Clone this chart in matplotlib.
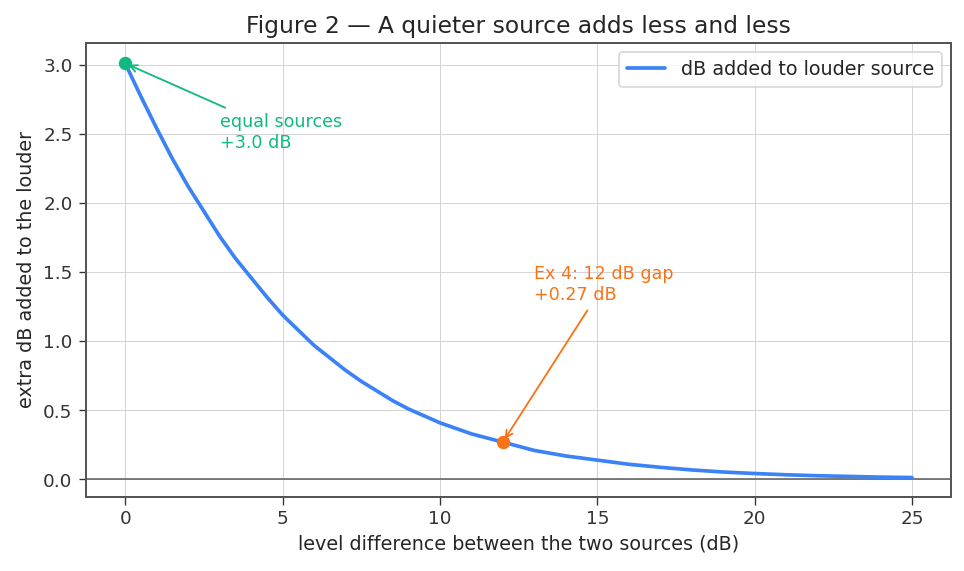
import numpy as np
import matplotlib
matplotlib.use("Agg")
import matplotlib.pyplot as plt
import seaborn as sns

# level difference (dB) and extra dB on top of the louder source
diff_db = [0, 0.5, 1, 1.5, 2, 2.5, 3, 3.5, 4, 4.5, 5, 5.5, 6, 6.5, 7, 7.5,
           8, 8.5, 9, 9.5, 10, 10.5, 11, 11.5, 12, 12.5, 13, 13.5, 14, 15, 16,
           17, 18, 19, 20, 21, 22, 23, 24, 25]
added_db = [3.01, 2.77, 2.54, 2.32, 2.12, 1.94, 1.76, 1.60, 1.46, 1.32,
            1.19, 1.08, 0.97, 0.88, 0.79, 0.71, 0.64, 0.57, 0.51, 0.46,
            0.41, 0.37, 0.33, 0.30, 0.27, 0.24, 0.21, 0.19, 0.17, 0.14,
            0.11, 0.088, 0.069, 0.054, 0.043, 0.034, 0.027, 0.022, 0.017, 0.014]

equal_pt = (0, 3.01)
ex4_pt = (12, 0.27)

sns.set_style("ticks")
plt.rcParams['font.family'] = ['DejaVu Sans']

fig, ax = plt.subplots(figsize=(8.04, 4.76), dpi=120)
fig.subplots_adjust(left=0.089, right=0.986, top=0.925, bottom=0.13)

ax.plot(diff_db, added_db, color="#3b82f6", lw=2.2, label="dB added to louder source")
ax.axhline(0, color="#666666", lw=1, zorder=1)

ax.plot(*equal_pt, "o", color="#10b981", ms=7, zorder=5)
ax.plot(*ex4_pt, "o", color="#f97316", ms=7, zorder=5)

ax.annotate("equal sources\n+3.0 dB", xy=equal_pt, xytext=(3, 2.4),
            color="#10b981", fontsize=10.5,
            arrowprops=dict(arrowstyle="->", color="#10b981", lw=1.1))
ax.annotate("Ex 4: 12 dB gap\n+0.27 dB", xy=ex4_pt, xytext=(13, 1.3),
            color="#f97316", fontsize=10.5,
            arrowprops=dict(arrowstyle="->", color="#f97316", lw=1.1))

ax.set_ylim(-0.125, 3.16)
ax.grid(True, color="#d4d4d4", lw=0.6)
ax.set_axisbelow(True)
for s in ax.spines.values():
    s.set_color("#555555")
    s.set_linewidth(1.2)
ax.tick_params(colors="#333333", labelsize=11, length=4.5)

ax.set_xlabel("level difference between the two sources (dB)", fontsize=11.5)
ax.set_ylabel("extra dB added to the louder", fontsize=11.5)
ax.set_title("Figure 2 — A quieter source adds less and less", fontsize=14)
ax.legend(loc="upper right", fontsize=11.5, frameon=True)

fig.savefig("out.png")
